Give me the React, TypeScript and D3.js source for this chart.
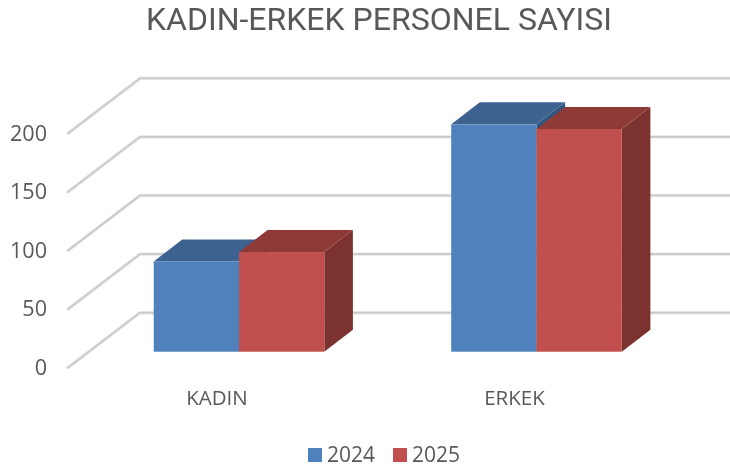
import React from "react";
import * as d3 from "d3";

const categories = ["KADIN", "ERKEK"];
const seriesNames = ["2024", "2025"];
const values2024 = [77, 194];
const values2025 = [85, 190];
const yTicks = [0, 50, 100, 150, 200];
const title = "KADIN-ERKEK PERSONEL SAYISI";

const W = 730, H = 471;
const FONT = "'Open Sans', 'Noto Sans', sans-serif";
const TITLE_FONT = "Roboto, 'Open Sans', sans-serif";
const TEXT = "#595959";
// 3D frame
const wallDx = 72;
const frontX = 68;
const frontY0 = 367.7;
const backY0 = 312.7;
const barBaseY = 351.7;
const barDx = 28.6, barDy = 22;

const pxPerUnit = 58.6 / 50;
const yBack = d3.scaleLinear().domain([0, 200]).range([backY0, backY0 - 200 * pxPerUnit]);
const yFront = d3.scaleLinear().domain([0, 200]).range([frontY0, frontY0 - 200 * pxPerUnit]);
const yBar = d3.scaleLinear().domain([0, 200]).range([barBaseY, barBaseY - 200 * pxPerUnit]);
const x0 = d3.scaleBand<string>().domain(categories).range([90.25, 685.25]);
const x1 = d3.scaleBand<string>().domain(seriesNames).range([0, x0.bandwidth()]).paddingOuter(0.744).paddingInner(0);

const palette = [
  { front: "#4f81bd", top: "#3c6290", side: "#2f5580" },
  { front: "#c0504d", top: "#8e3a38", side: "#7c302e" },
];
const seriesValues = [values2024, values2025];

function Bar({ x, y, w, c }: { x: number; y: number; w: number; c: typeof palette[0] }) {
  const top = `M${x},${y}L${x + barDx},${y - barDy}L${x + w + barDx},${y - barDy}L${x + w},${y}Z`;
  const side = `M${x + w},${y}L${x + w + barDx},${y - barDy}L${x + w + barDx},${barBaseY - barDy}L${x + w},${barBaseY}Z`;
  return (
    <g>
      <path d={side} fill={c.side} />
      <path d={top} fill={c.top} />
      <rect x={x} y={y} width={w} height={barBaseY - y} fill={c.front} />
    </g>
  );
}

export default function App() {
  const bw = x1.bandwidth();
  return (
    <svg width={W} height={H} viewBox={`0 0 ${W} ${H}`}
      style={{ position: "absolute", left: 0, top: 0, display: "block", background: "#fff" }}>
      <defs>
        <filter id="soft" x="-5%" y="-5%" width="110%" height="110%">
          <feGaussianBlur stdDeviation="0.4" />
        </filter>
      </defs>
      <g filter="url(#soft)">
        <text x={379} y={29.7} textAnchor="middle" fontFamily={TITLE_FONT} fontSize={32} fill={TEXT}
          textLength={466} lengthAdjust="spacingAndGlyphs">{title}</text>

        {yTicks.map((t) => {
          const pts = `M${frontX},${yFront(t)}L${frontX + wallDx},${yBack(t)}L${W},${yBack(t)}`;
          return (
            <g key={t}>
              <path d={pts} fill="none" stroke="#e6e6e6" strokeWidth={3.4} strokeLinejoin="round" strokeLinecap="round" />
              <path d={pts} fill="none" stroke="#c9c9c9" strokeWidth={1.6} strokeLinejoin="round" strokeLinecap="round" />
            </g>
          );
        })}

        {yTicks.map((t) => (
          <text key={t} x={47} y={yFront(t) + 7.2} textAnchor="end" fontFamily={FONT} fontSize={21.6} fill={TEXT}>{t}</text>
        ))}

        {categories.map((cat, i) => (
          <g key={cat}>
            {seriesNames.map((s, j) => {
              const x = x0(cat)! + x1(s)!;
              return <Bar key={s} x={x} y={yBar(seriesValues[j][i])} w={bw} c={palette[j]} />;
            })}
            <text x={x0(cat)! + x0.bandwidth() / 2 - 22} y={405} textAnchor="middle" fontFamily={FONT} fontSize={20.5} fill={TEXT}>{cat}</text>
          </g>
        ))}

        {seriesNames.map((s, j) => {
          const lx = 308 + j * 85;
          return (
            <g key={s}>
              <rect x={lx} y={448} width={14} height={14} fill={palette[j].front} />
              <text x={lx + 19} y={462} fontFamily={FONT} fontSize={21} fill={TEXT}>{s}</text>
            </g>
          );
        })}
      </g>
    </svg>
  );
}
